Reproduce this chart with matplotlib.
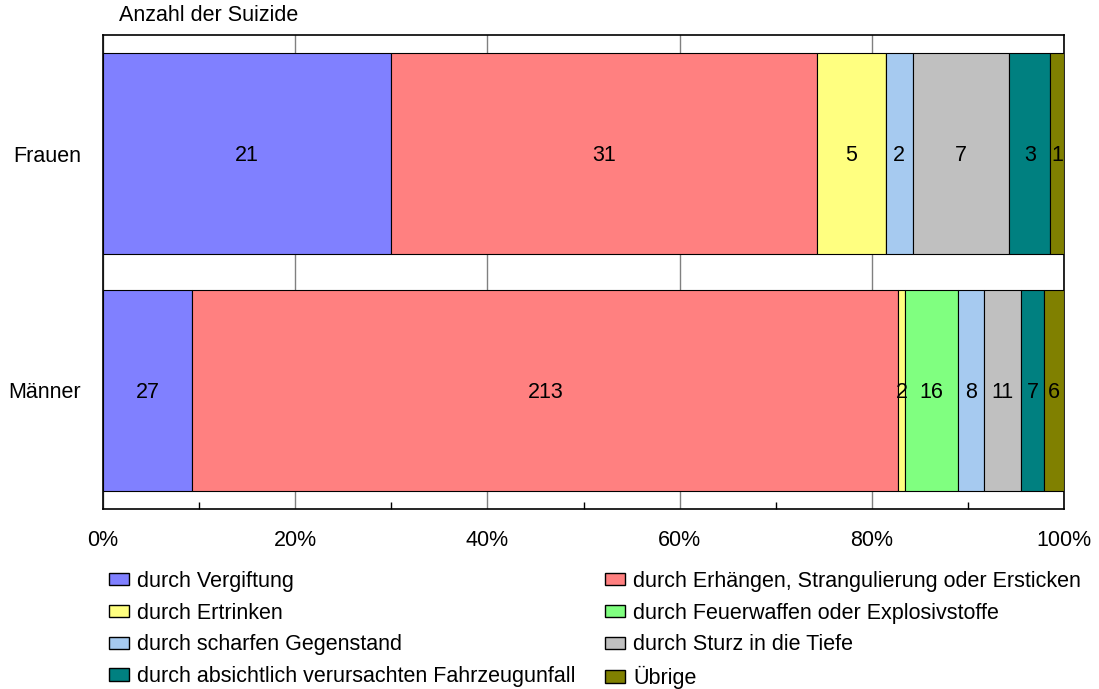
import numpy as np
import matplotlib.pyplot as plt
from matplotlib.patches import Patch
from matplotlib.ticker import MultipleLocator, PercentFormatter

plt.rcParams['font.family'] = ['Liberation Sans', 'DejaVu Sans']

# ---------- Data ----------
groups = ['Frauen', 'Männer']
categories = [
    'durch Vergiftung',
    'durch Erhängen, Strangulierung oder Ersticken',
    'durch Ertrinken',
    'durch Feuerwaffen oder Explosivstoffe',
    'durch scharfen Gegenstand',
    'durch Sturz in die Tiefe',
    'durch absichtlich verursachten Fahrzeugunfall',
    'Übrige',
]
frauen = [21, 31, 5, 0, 2, 7, 3, 1]
maenner = [27, 213, 2, 16, 8, 11, 7, 6]
colors = ['#8080FF', '#FF8080', '#FFFF80', '#80FF80',
          '#A6CAF0', '#C0C0C0', '#008080', '#808000']

counts = np.array([frauen, maenner], dtype=float)
shares = counts / counts.sum(axis=1, keepdims=True) * 100

FS = 15.5

# ---------- Plot ----------
fig = plt.figure(figsize=(10.99, 6.89), dpi=100)
ax = fig.add_axes([103 / 1099, 1 - 509 / 689, 961 / 1099, 474 / 689])

ypos = np.arange(len(groups))
left = np.zeros(len(groups))
for j, cat in enumerate(categories):
    w = shares[:, j]
    ax.barh(ypos, w, left=left, height=0.85, color=colors[j],
            edgecolor='black', linewidth=0.8, zorder=3)
    for i in range(len(groups)):
        if counts[i, j] > 0:
            ax.text(left[i] + w[i] / 2, ypos[i] + 0.01, f'{int(counts[i, j])}',
                    ha='center', va='center', fontsize=FS, zorder=4)
    left += w

ax.set_xlim(0, 100)
ax.set_ylim(1.5, -0.5)
ax.set_yticks(ypos)
ax.set_yticklabels(groups, fontsize=FS)
ax.tick_params(axis='y', length=0, pad=16)

ax.xaxis.set_major_locator(MultipleLocator(20))
ax.xaxis.set_minor_locator(MultipleLocator(10))
ax.xaxis.set_major_formatter(PercentFormatter(decimals=0))
ax.tick_params(axis='x', which='major', length=0, pad=15, labelsize=FS)
ax.tick_params(axis='x', which='minor', direction='in', length=5, width=1, color='black')
ax.grid(axis='x', which='major', color='#808080', linewidth=1, zorder=0)
for s in ax.spines.values():
    s.set_linewidth(1.2)

ax.text(0.017, 1.02, 'Anzahl der Suizide', transform=ax.transAxes,
        ha='left', va='bottom', fontsize=FS)

# legend: fill row-wise like the original
order = [0, 2, 4, 6, 1, 3, 5, 7]
handles = [Patch(facecolor=colors[k], edgecolor='black', linewidth=1) for k in order]
labels = [categories[k] for k in order]
fig.legend(handles, labels, ncol=2, loc='upper left',
           bbox_to_anchor=(98 / 1099, 1 - 560 / 689), frameon=False,
           borderpad=0, fontsize=FS, handlelength=0.93, handleheight=0.5,
           handletextpad=0.37, columnspacing=1.4, labelspacing=0.5)

plt.savefig('out.png', dpi=100)
